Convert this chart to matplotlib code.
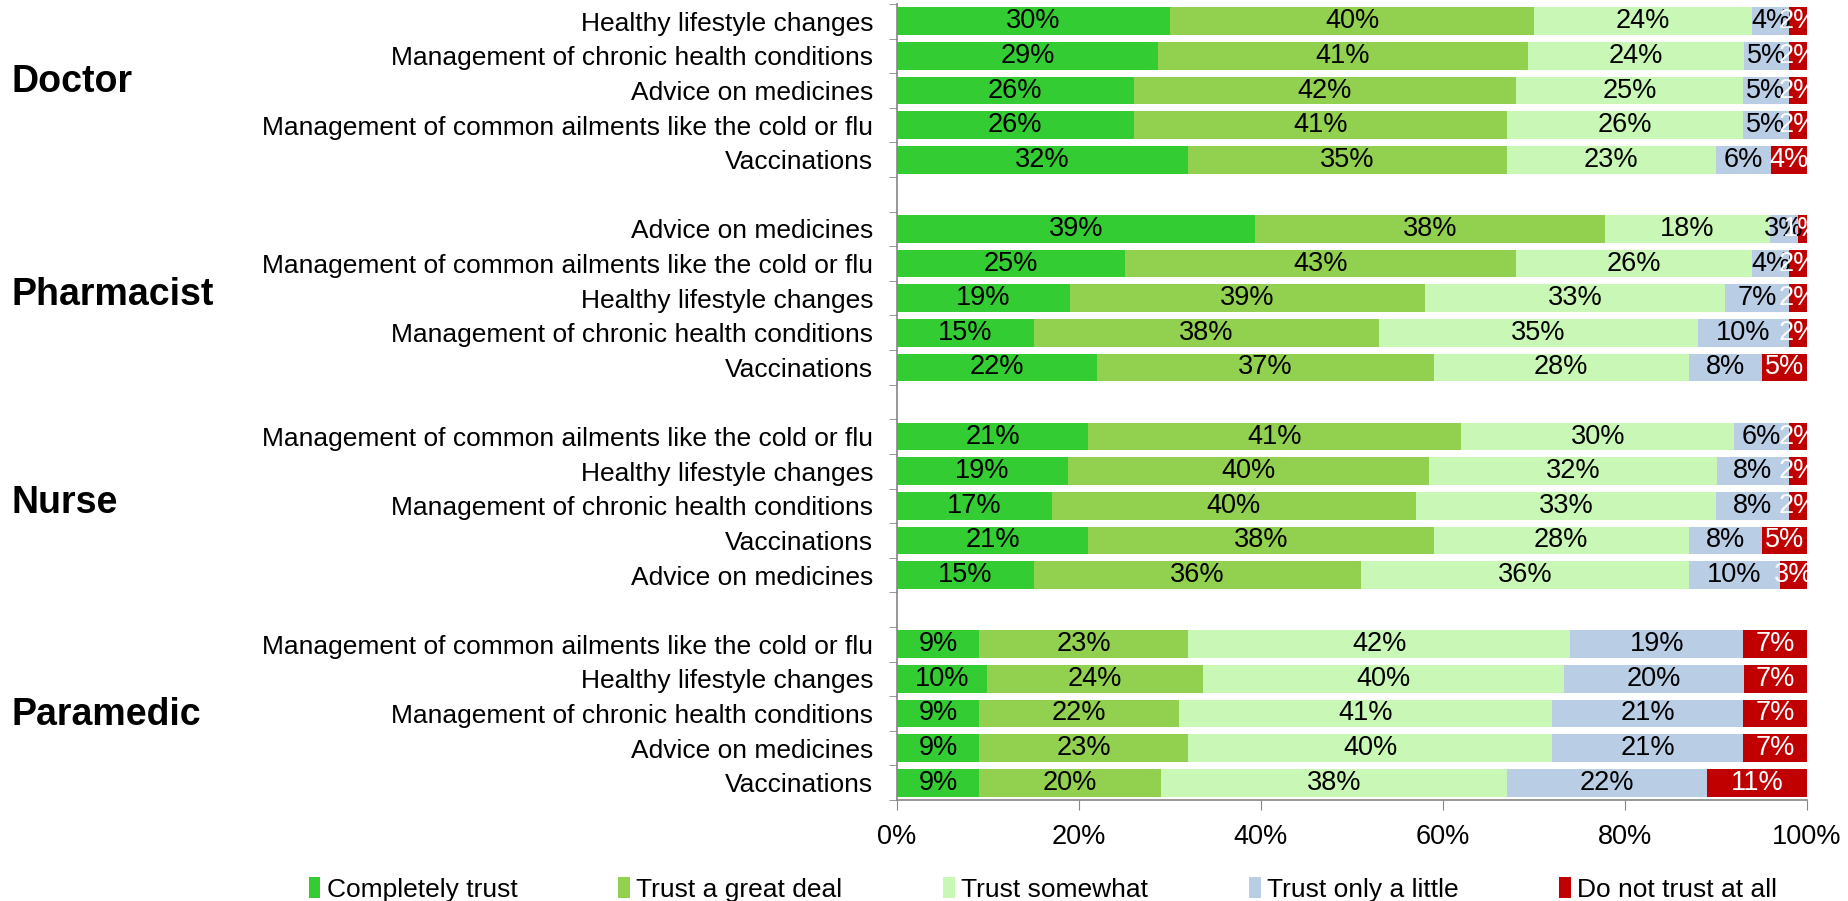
import matplotlib
matplotlib.use("Agg")
import matplotlib.pyplot as plt
import numpy as np

# ---- data ----
groups = ["Doctor", "Pharmacist", "Nurse", "Paramedic"]
items = [
    ["Healthy lifestyle changes", "Management of chronic health conditions", "Advice on medicines",
     "Management of common ailments like the cold or flu", "Vaccinations"],
    ["Advice on medicines", "Management of common ailments like the cold or flu", "Healthy lifestyle changes",
     "Management of chronic health conditions", "Vaccinations"],
    ["Management of common ailments like the cold or flu", "Healthy lifestyle changes",
     "Management of chronic health conditions", "Vaccinations", "Advice on medicines"],
    ["Management of common ailments like the cold or flu", "Healthy lifestyle changes",
     "Management of chronic health conditions", "Advice on medicines", "Vaccinations"],
]
series = ["Completely trust", "Trust a great deal", "Trust somewhat", "Trust only a little", "Do not trust at all"]
completely = [30, 29, 26, 26, 32,  39, 25, 19, 15, 22,  21, 19, 17, 21, 15,  9, 10, 9, 9, 9]
great_deal = [40, 41, 42, 41, 35,  38, 43, 39, 38, 37,  41, 40, 40, 38, 36,  23, 24, 22, 23, 20]
somewhat   = [24, 24, 25, 26, 23,  18, 26, 33, 35, 28,  30, 32, 33, 28, 36,  42, 40, 41, 40, 38]
little     = [4, 5, 5, 5, 6,       3, 4, 7, 10, 8,      6, 8, 8, 8, 10,      19, 20, 21, 21, 22]
not_at_all = [2, 2, 2, 2, 4,       1, 2, 2, 2, 5,       2, 2, 2, 5, 3,       7, 7, 7, 7, 11]

colors = ["#33CC33", "#92D050", "#C9F8B6", "#B9CDE5", "#C00000"]
label_colors = ["black", "black", "black", "black", "white"]

plt.rcParams['font.family'] = ['Liberation Sans', 'DejaVu Sans']

fig = plt.figure(figsize=(18.48, 9.01), dpi=100)
ax = fig.add_axes([897/1848, 1 - 800/901, (1807-897)/1848, (800-4)/901])

vals = np.array([completely, great_deal, somewhat, little, not_at_all], dtype=float)
totals = vals.sum(axis=0)
shares = vals / totals  # 100% stacked bars

ypos = []
ylabels = []
for g in range(len(groups)):
    for i in range(5):
        ypos.append(g * 6 + i)
        ylabels.append(items[g][i])
ypos = np.array(ypos)

left = np.zeros(len(ypos))
for s in range(5):
    bars = ax.barh(ypos, shares[s], left=left, height=0.8, color=colors[s], label=series[s],
                   edgecolor='none')
    for k, b in enumerate(bars):
        cx = left[k] + shares[s][k] / 2
        ax.text(cx, ypos[k], f"{int(vals[s][k])}%", ha='center', va='center',
                fontsize=19.5, color=label_colors[s])
    left += shares[s]

ax.set_xlim(0, 1)
ax.set_ylim(22.5, -0.5)
ax.set_xticks(np.linspace(0, 1, 6))
ax.set_xticklabels([f"{int(v)}%" for v in np.linspace(0, 100, 6)], fontsize=19.5)
ax.set_yticks(ypos)
ax.set_yticklabels(ylabels, fontsize=19)
ax.tick_params(axis='y', length=0, pad=17)
ax.set_yticks(np.arange(-0.5, 23, 1), minor=True)
ax.tick_params(axis='y', which='minor', length=6, color='#868686')
ax.tick_params(axis='x', length=7, color='#868686', pad=10)

for sp in ['top', 'right']:
    ax.spines[sp].set_visible(False)
for sp in ['left', 'bottom']:
    ax.spines[sp].set_color('#868686')
    ax.spines[sp].set_linewidth(1.2)

# group labels: baseline offsets (pixels below group centre row)
group_offsets = [1.5, 7, 7.3, 12]
for g, name in enumerate(groups):
    yc = g * 6 + 2
    ax.annotate(name, xy=(0, yc), xycoords=('figure fraction', 'data'),
                xytext=(12, -group_offsets[g]), textcoords='offset pixels',
                ha='left', va='baseline', fontsize=27, fontweight='bold')

handles, labs = ax.get_legend_handles_labels()
leg = fig.legend(handles, labs, loc='center', bbox_to_anchor=(1043/1848, 1 - 889.5/901), ncol=5,
                 frameon=False, fontsize=19, handlelength=0.45, handleheight=0.8,
                 handletextpad=0.25, columnspacing=3.8)

fig.savefig("out.png", dpi=100)
